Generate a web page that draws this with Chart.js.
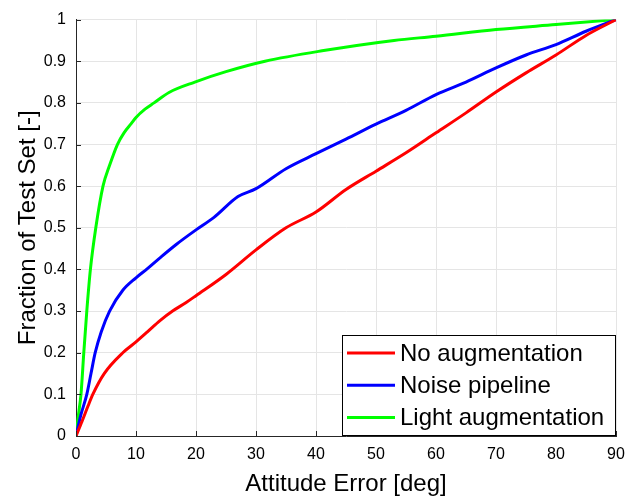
<!DOCTYPE html>
<html>
<head>
<meta charset="utf-8">
<script src="https://cdn.jsdelivr.net/npm/chart.js@4/dist/chart.umd.min.js"></script>
<style>
  html, body { margin: 0; padding: 0; background: #fff; }
  #wrap { width: 639px; height: 499px; }
</style>
</head>
<body>
<div id="wrap"><canvas id="cdf" width="639" height="499"></canvas></div>
<script>
// CDF samples: attitude error [deg] -> fraction of test set
const seriesNames = ['No augmentation', 'Noise pipeline', 'Light augmentation'];
const seriesColors = ['#ff0000', '#0000ff', '#00ff00'];

const noAugDeg  = [0, 1, 2, 2.8, 4.7, 7.8, 10, 11.9, 14, 16.1, 18.3, 20, 25, 30, 35, 40, 45, 50, 55, 60, 65, 70, 75, 80, 85, 90];
const noAugFrac = [0, 0.035, 0.072, 0.1, 0.15, 0.2, 0.226, 0.25, 0.277, 0.3, 0.32, 0.337, 0.388, 0.447, 0.5, 0.538, 0.592, 0.636, 0.68, 0.728, 0.776, 0.826, 0.872, 0.915, 0.962, 1];

const noiseDeg  = [0, 0.8, 1.8, 2.5, 3.2, 4.2, 5.6, 7.8, 10, 11.9, 14, 16.7, 20, 23, 27, 30, 35, 40, 45, 50, 55, 60, 65, 70, 75, 80, 85, 90];
const noiseFrac = [0, 0.05, 0.1, 0.15, 0.2, 0.25, 0.3, 0.35, 0.38, 0.402, 0.428, 0.46, 0.495, 0.525, 0.575, 0.594, 0.642, 0.678, 0.713, 0.749, 0.782, 0.82, 0.85, 0.884, 0.915, 0.94, 0.972, 1];

const lightDeg  = [0, 0.4, 0.83, 1.3, 1.8, 2.4, 3.3, 4.5, 5.6, 6.9, 8, 9.2, 10, 11.5, 13, 15.5, 19.8, 25, 31.5, 41, 53, 60, 70, 80, 90];
const lightFrac = [0, 0.05, 0.1, 0.2, 0.3, 0.4, 0.5, 0.6, 0.65, 0.7, 0.728, 0.75, 0.765, 0.785, 0.8, 0.825, 0.85, 0.875, 0.9, 0.925, 0.95, 0.96, 0.976, 0.988, 1];

const xTicks = [0, 10, 20, 30, 40, 50, 60, 70, 80, 90];
const yTicks = [0, 0.1, 0.2, 0.3, 0.4, 0.5, 0.6, 0.7, 0.8, 0.9, 1];

const axisColor = '#262626';
const gridColor = '#e5e5e5';
const fontFamily = '"Liberation Sans", Arial, Helvetica, sans-serif';

const toPoints = (xs, ys) => xs.map((x, i) => ({ x: x, y: ys[i] }));
const allX = [noAugDeg, noiseDeg, lightDeg];
const allY = [noAugFrac, noiseFrac, lightFrac];

// MATLAB style: short ticks pointing into the axes
const innerTicks = {
  id: 'innerTicks',
  afterDatasetsDraw(chart) {
    const { ctx, chartArea: a, scales } = chart;
    ctx.save();
    ctx.strokeStyle = axisColor;
    ctx.lineWidth = 1;
    ctx.beginPath();
    xTicks.forEach(v => {
      const px = Math.round(scales.x.getPixelForValue(v)) + 0.5;
      ctx.moveTo(px, a.bottom);
      ctx.lineTo(px, a.bottom - 5);
    });
    yTicks.forEach(v => {
      const py = Math.round(scales.y.getPixelForValue(v)) + 0.5;
      ctx.moveTo(a.left, py);
      ctx.lineTo(a.left + 5, py);
    });
    ctx.stroke();
    ctx.restore();
  }
};

// boxed legend in the lower right corner of the axes
const boxLegend = {
  id: 'boxLegend',
  afterDraw(chart) {
    const { ctx, chartArea: a } = chart;
    const w = 274, h = 101;
    const x0 = a.right - w, y0 = a.bottom - h;
    ctx.save();
    ctx.fillStyle = '#fff';
    ctx.fillRect(x0, y0, w, h);
    ctx.strokeStyle = '#000';
    ctx.lineWidth = 1;
    ctx.strokeRect(x0 + 0.5, y0 + 0.5, w - 1, h - 1);
    ctx.font = '24px ' + fontFamily;
    ctx.textBaseline = 'middle';
    ctx.fillStyle = '#000';
    chart.data.datasets.forEach((ds, i) => {
      const cy = y0 + 18 + i * 32.3;
      ctx.strokeStyle = ds.borderColor;
      ctx.lineWidth = 3;
      ctx.beginPath();
      ctx.moveTo(x0 + 5, cy);
      ctx.lineTo(x0 + 53, cy);
      ctx.stroke();
      ctx.fillText(ds.label, x0 + 58, cy + 1);
    });
    ctx.restore();
  }
};

new Chart(document.getElementById('cdf'), {
  type: 'line',
  data: {
    datasets: seriesNames.map((name, i) => ({
      label: name,
      data: toPoints(allX[i], allY[i]),
      borderColor: seriesColors[i],
      backgroundColor: seriesColors[i],
      borderWidth: 3,
      pointRadius: 0,
      cubicInterpolationMode: 'monotone',
      fill: false
    }))
  },
  options: {
    responsive: false,
    animation: false,
    devicePixelRatio: 1,
    layout: { padding: { top: 14, right: 23, left: 0, bottom: 0 } },
    plugins: {
      legend: { display: false },
      tooltip: { enabled: false }
    },
    scales: {
      x: {
        type: 'linear',
        min: 0,
        max: 90,
        afterBuildTicks: s => { s.ticks = xTicks.map(v => ({ value: v })); },
        afterFit: s => { s.height = 63; },
        grid: { color: gridColor, drawTicks: false },
        border: { color: axisColor, width: 1 },
        ticks: {
          color: '#000',
          padding: 9,
          maxRotation: 0,
          font: { family: fontFamily, size: 16 }
        },
        title: {
          display: true,
          text: 'Attitude Error [deg]',
          color: '#000',
          padding: { top: 3, bottom: 0 },
          font: { family: fontFamily, size: 24 }
        }
      },
      y: {
        min: 0,
        max: 1,
        afterBuildTicks: s => { s.ticks = yTicks.map(v => ({ value: v })); },
        afterFit: s => { s.width = 76; },
        grid: { color: gridColor, drawTicks: false },
        border: { color: axisColor, width: 1 },
        ticks: {
          color: '#000',
          padding: 10,
          font: { family: fontFamily, size: 16 },
          callback: v => String(Number(v.toFixed(1)))
        },
        title: {
          display: true,
          text: 'Fraction of Test Set [-]',
          color: '#000',
          padding: { top: 14, bottom: 0 },
          font: { family: fontFamily, size: 24 }
        }
      }
    }
  },
  plugins: [innerTicks, boxLegend]
});
</script>
</body>
</html>
